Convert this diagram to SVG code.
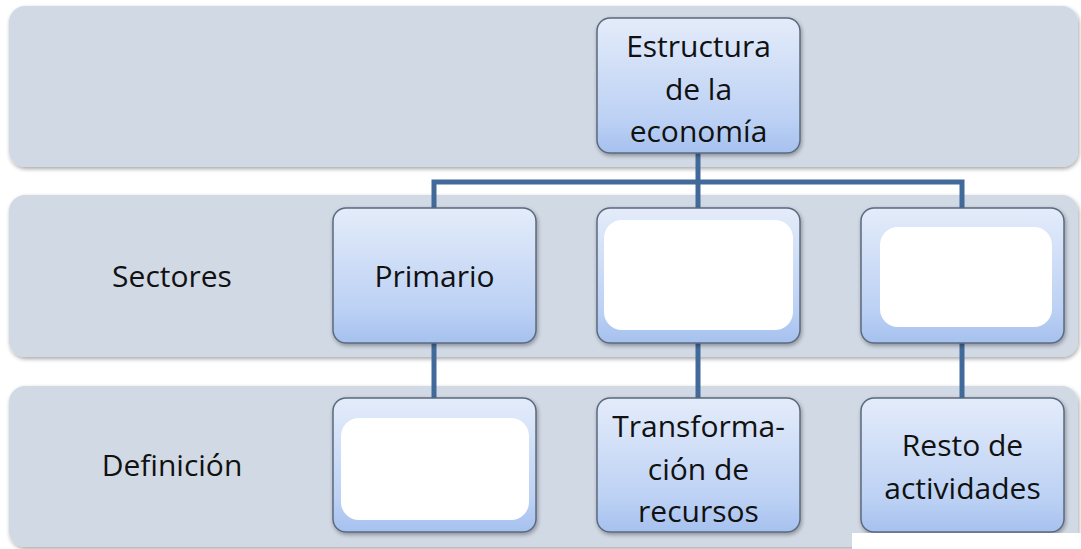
<svg xmlns="http://www.w3.org/2000/svg" width="1081" height="549" viewBox="0 0 1081 549">
<defs>
<linearGradient id="nodeGrad" x1="0" y1="0" x2="0" y2="1">
<stop offset="0" stop-color="#e4ecfa"/>
<stop offset="0.75" stop-color="#bcd1f4"/>
<stop offset="1" stop-color="#a6c1ef"/>
</linearGradient>
<filter id="shadow" x="-5%" y="-5%" width="115%" height="120%">
<feGaussianBlur in="SourceAlpha" stdDeviation="2"/>
<feOffset dx="1" dy="2" result="b"/>
<feComponentTransfer><feFuncA type="linear" slope="0.35"/></feComponentTransfer>
<feMerge><feMergeNode/><feMergeNode in="SourceGraphic"/></feMerge>
</filter>
</defs>
<style>
.band{fill:#d1d9e5;filter:url(#shadow);}
.node{fill:url(#nodeGrad);stroke:#5b6a7e;stroke-width:1.5;filter:url(#shadow);}
.blank{fill:#ffffff;}
.conn{fill:none;stroke:#41699a;stroke-width:5;}
.t{font-family:"Open Sans","Liberation Sans",sans-serif;font-size:30px;fill:#111111;text-anchor:middle;}
</style>
<rect width="1081" height="549" fill="#ffffff"/>
<g id="bands">
<rect class="band" x="9" y="6" width="1069" height="161" rx="16"/>
<rect class="band" x="9" y="195" width="1069" height="162" rx="16"/>
<rect class="band" x="9" y="386" width="1069" height="161" rx="16"/>
</g>
<g id="row-labels">
<text class="t" x="172" y="287">Sectores</text>
<text class="t" x="172" y="476">Definición</text>
</g>
<g id="connectors">
<path class="conn" d="M698 153 V208"/>
<path class="conn" d="M434 208 V182 H962 V208"/>
<path class="conn" d="M434 343 V398"/>
<path class="conn" d="M698 343 V398"/>
<path class="conn" d="M962 343 V398"/>
</g>
<g id="node-root">
<rect class="node" x="597" y="18" width="203" height="135" rx="13"/>
<text class="t" x="698.5" y="57">Estructura</text>
<text class="t" x="698.5" y="99.5">de la</text>
<text class="t" x="698.5" y="142">economía</text>
</g>
<g id="node-primario">
<rect class="node" x="333" y="208" width="203" height="135" rx="13"/>
<text class="t" x="434.5" y="287">Primario</text>
</g>
<g id="node-secundario">
<rect class="node" x="597" y="208" width="203" height="135" rx="13"/>
<rect class="blank" x="604" y="220" width="189" height="110" rx="18"/>
</g>
<g id="node-terciario">
<rect class="node" x="861" y="208" width="203" height="135" rx="13"/>
<rect class="blank" x="880" y="227" width="172" height="100" rx="18"/>
</g>
<g id="node-def-primario">
<rect class="node" x="333" y="398" width="203" height="134" rx="13"/>
<rect class="blank" x="341" y="418" width="188" height="102" rx="18"/>
</g>
<g id="node-def-secundario">
<rect class="node" x="597" y="398" width="203" height="134" rx="13"/>
<text class="t" x="698.5" y="437">Transforma-</text>
<text class="t" x="698.5" y="479.5">ción de</text>
<text class="t" x="698.5" y="522">recursos</text>
</g>
<g id="node-def-terciario">
<rect class="node" x="861" y="398" width="203" height="134" rx="13"/>
<text class="t" x="962.5" y="456">Resto de</text>
<text class="t" x="962.5" y="498.5">actividades</text>
</g>
<rect x="852" y="533" width="229" height="16" fill="#ffffff"/>
</svg>
